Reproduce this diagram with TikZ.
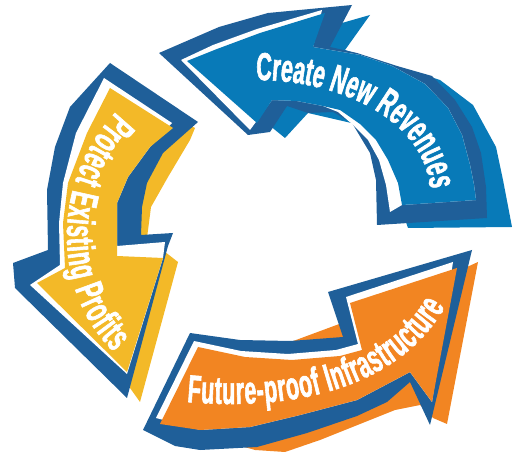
\documentclass[tikz,border=0pt]{standalone}
\usepackage{fontspec}
\usepackage{xcolor}
\usepackage{tikz}
\usetikzlibrary{decorations.text}
\newfontfamily\arrowfont{Liberation Sans}[FakeStretch=0.55,FakeBold=1.5]
\newcommand{\arrowlabelfont}{\arrowfont\bfseries\fontsize{39}{39}\selectfont\color{white}}
\definecolor{outlineblue}{RGB}{31,95,153}
\definecolor{revblue}{RGB}{8,122,184}
\definecolor{profityellow}{RGB}{243,185,40}
\definecolor{infraorange}{RGB}{242,133,34}
\tikzset{
  outline/.style={fill=outlineblue},
  gap/.style={fill=white},
  arrowlabel/.style={decorate, decoration={text along path, text align=fit to path, text={|\arrowlabelfont|#1}}}
}

\begin{document}
\begin{tikzpicture}[x=1pt,y=1pt]
		\useasboundingbox (0,0) rectangle (513,457);
		\begin{scope}[yshift=457pt,yscale=-1]
		%Shape: Polygon [blue arrow, shadow]
		\fill [revblue] (195,65) -- (370,15) -- (345,50) -- (440,80) -- (473,105) -- (496,147) -- (503,180) -- (512,227) -- (408,228) -- (395,190) -- (385,150) -- (360,125) -- (308,113) -- (285,138) -- cycle ;
		%Shape: Polygon [blue arrow, outline]
		\fill [outline] (159,53) -- (219,27) -- (268,13) -- (352,5) -- (330,47) -- (357,53) -- (397,66) -- (432,76) -- (455,100) -- (472,127) -- (481,153) -- (486,187) -- (487,218) -- (377,225) -- (376,180) -- (370,153) -- (352,123) -- (333,112) -- (308,113) -- (287,106) -- (270,132) -- (248,135) -- cycle ;
		%Shape: Polygon [blue arrow, gap]
		\fill [gap] (181,60) -- (213,45) -- (257,29) -- (322,10) -- (313,47) -- (330,50) -- (360,55) -- (392,66) -- (425,84) -- (448,108) -- (462,135) -- (470,165) -- (474,185) -- (476,200) -- (402,205) -- (390,212) -- (386,185) -- (379,160) -- (368,140) -- (352,124) -- (338,112) -- (323,106) -- (297,101) -- (272,100) -- (250,130) -- cycle ;
		%Shape: Polygon [blue arrow, front]
		\fill [revblue] (187,61) -- (217,49) -- (260,33) -- (325,13) -- (313,47) -- (330,50) -- (360,55) -- (392,66) -- (425,84) -- (448,108) -- (462,135) -- (470,165) -- (474,185) -- (476,200) -- (402,205) -- (398,183) -- (388,160) -- (376,140) -- (360,124) -- (340,110) -- (323,106) -- (297,101) -- (272,100) -- (257,123) -- cycle ;
		
		%Shape: Polygon [yellow arrow, shadow]
		\fill [profityellow] (130,90) -- (195,128) -- (190,140) -- (168,177) -- (151,207) -- (147,238) -- (178,262) -- (140,402) -- (110,360) -- (100,260) -- (110,150) -- cycle ;
		%Shape: Polygon [yellow arrow, outline]
		\fill [outline] (110,63) -- (198,122) -- (163,153) -- (147,183) -- (142,207) -- (141,235) -- (173,233) -- (168,246) -- (127,398) -- (15,288) -- (13,263) -- (48,250) -- (47,190) -- (55,147) -- (70,107) -- cycle ;
		%Shape: Polygon [yellow arrow, gap]
		\fill [gap] (104,78) -- (172,123) -- (150,147) -- (128,177) -- (117,203) -- (117,246) -- (165,242) -- (163,258) -- (127,374) -- (30,285) -- (60,265) -- (59,223) -- (63,183) -- (76,133) -- cycle ;
		%Shape: Polygon [yellow arrow, front]
		\fill [profityellow] (110,88) -- (173,128) -- (150,147) -- (128,177) -- (117,203) -- (117,256) -- (163,258) -- (127,372) -- (37,283) -- (65,268) -- (63,223) -- (68,183) -- (87,133) -- cycle ;
		
		%Shape: Polygon [orange arrow, shadow]
		\fill [infraorange] (478,262) -- (447,424) -- (433,418) -- (420,405) -- (395,410) -- (365,422) -- (320,440) -- (285,452) -- (255,450) -- (220,440) -- (215,370) -- (350,320) -- cycle ;
		%Shape: Polygon [orange arrow, outline]
		\fill [outline] (190,333) -- (240,340) -- (290,341) -- (343,337) -- (328,292) -- (472,250) -- (430,425) -- (410,382) -- (387,402) -- (357,416) -- (307,433) -- (257,447) -- (200,450) -- (175,446) -- (143,430) -- cycle ;
		%Shape: Polygon [orange arrow, gap]
		\fill [gap] (194,341) -- (241,351) -- (288,354) -- (336,350) -- (358,344) -- (346,297) -- (453,262) -- (432,402) -- (410,372) -- (357,400) -- (300,415) -- (250,427) -- (200,430) -- (156,418) -- cycle ;
		%Shape: Polygon [orange arrow, front]
		\fill [infraorange] (198,347) -- (245,357) -- (292,360) -- (340,356) -- (362,350) -- (350,303) -- (457,268) -- (432,402) -- (410,372) -- (357,400) -- (300,415) -- (250,427) -- (200,430) -- (160,424) -- cycle ;
		\end{scope}
		
		% Text along path
		\path [arrowlabel=Create New Revenues] (256,377) .. controls (340,377) and (425,337) .. (430,268) ;
		% Text along path
		\path [arrowlabel=Protect Existing Profits] (116,345) .. controls (51,277) and (51,165) .. (114,105) ;
		% Text along path
		\path [arrowlabel=Future-proof Infrastructure] (187,55) .. controls (300,45) and (400,72) .. (445,150) ;
		
\end{tikzpicture}
\end{document}
